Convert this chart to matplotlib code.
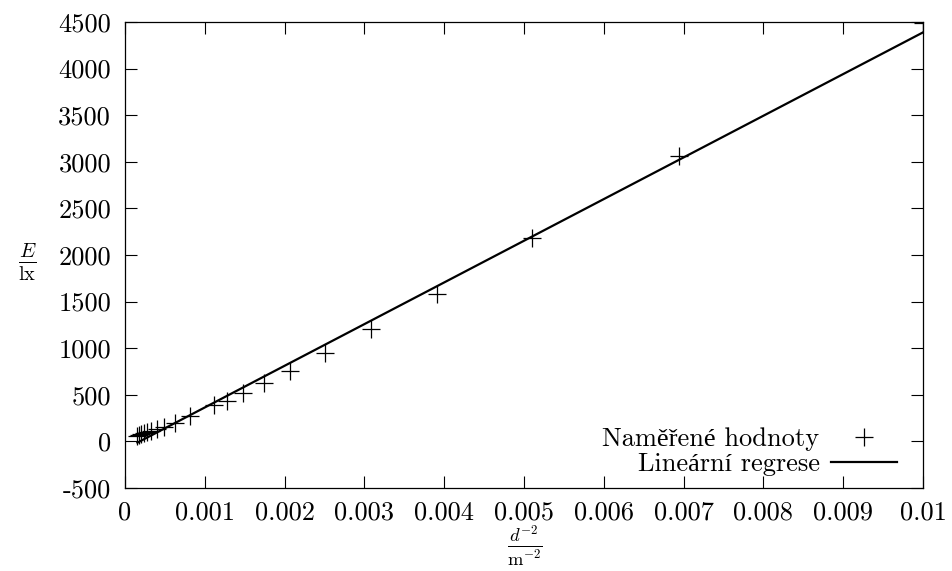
import numpy as np
import matplotlib
matplotlib.use("Agg")
import matplotlib.pyplot as plt

plt.rcParams['font.family'] = ['cmr10', 'Liberation Serif', 'DejaVu Serif']
plt.rcParams['mathtext.fontset'] = 'cm'
plt.rcParams['axes.unicode_minus'] = False

# distances and measured illuminance
d_values = [10, 12, 14, 16, 18, 20, 22, 24, 26, 28, 30,
            35, 40, 45, 50, 55, 60, 65, 70, 75, 80]
E_values = [4490, 3062, 2179, 1581, 1206, 950, 759, 630, 516, 430, 390,
            270, 195, 150, 130, 115, 100, 90, 80, 70, 60]

x_tick_labels = ["0", "0.001", "0.002", "0.003", "0.004", "0.005",
                 "0.006", "0.007", "0.008", "0.009", "0.01"]
y_tick_labels = ["-500", "0", "500", "1000", "1500", "2000", "2500",
                 "3000", "3500", "4000", "4500"]

series_labels = ["Naměřené hodnoty", "Lineární regrese"]

d = np.array(d_values, dtype=float)
x = 1.0 / d**2
E = np.array(E_values, dtype=float)

slope, intercept = np.polyfit(x, E, 1)
xfit = np.array([x.min(), x.max()])
yfit = slope * xfit + intercept

fig = plt.figure(figsize=(9.53, 5.71), dpi=100)
ax = fig.add_axes([125/953, 1 - 488/571, (923-125)/953, (488-22)/571])

ax.plot(x, E, linestyle='none', marker='+', color='black',
        markersize=13, markeredgewidth=0.9, label=series_labels[0])
ax.plot(xfit, yfit, color='black', linewidth=1.6, label=series_labels[1])

xt = [float(s) for s in x_tick_labels]
yt = [float(s) for s in y_tick_labels]
ax.set_xlim(xt[0], xt[-1])
ax.set_ylim(yt[0], yt[-1])
ax.set_xticks(xt, x_tick_labels)
ax.set_yticks(yt, y_tick_labels)

ax.tick_params(direction='in', length=8.5, width=0.8, top=True, right=True,
               labelsize=19, color='black')
ax.tick_params(axis='y', pad=10)
ax.tick_params(axis='x', pad=9)
for sp in ax.spines.values():
    sp.set_linewidth(0.9)
    sp.set_color('black')

ax.set_ylabel(r'$\frac{E}{\mathrm{lx}}$', rotation=0, fontsize=21,
              ha='center', va='center')
ax.yaxis.set_label_coords(-0.122, 0.485)
ax.set_xlabel(r'$\frac{d^{-2}}{\mathrm{m}^{-2}}$', fontsize=19,
              ha='center', va='center')
ax.xaxis.set_label_coords(0.501, -0.125)

leg = ax.legend(loc='lower right', frameon=False, markerfirst=False,
                fontsize=19, handlelength=2.5, handletextpad=0.45,
                labelspacing=0.05, borderaxespad=0.0,
                bbox_to_anchor=(1 - 15/798, 1/466))
for col in leg._legend_handle_box.get_children():
    col.align = "right"

fig.savefig("out.png", dpi=100)
